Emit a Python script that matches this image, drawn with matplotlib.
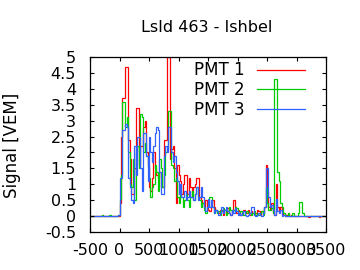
import numpy as np
import matplotlib
matplotlib.use("Agg")
import matplotlib.pyplot as plt

### Trace data (25 ns bins, -500 ns .. 3500 ns) ###
bin_width = 25
t_start = -500
t_stop = 3500

pmt1 = [
    0, 0, 0, 0, 0, 0, 0, 0, 0.02, 0, 0, 0, 0, 0, 0, 0, 0, 0, 0, 0,
    0.4, 2.5, 3.7, 3.7, 4.7, 4.7, 2.4, 1.8, 0.7, 0.7, 1.5, 3.4, 3.4, 1.6, 2.2, 2.2, 2.8, 3.0, 2.0, 1.6,
    0.9, 0.8, 1.2, 2.0, 1.5, 1.3, 1.2, 1.4, 0.9, 0.9, 2.4, 2.4, 5.0, 5.0, 1.8, 2.1, 2.2, 1.5, 0.4, 1.6,
    1.3, 1.1, 0.7, 1.0, 1.3, 1.3, 0.7, 1.2, 0.9, 0.6, 0.9, 1.0, 1.2, 1.2, 0.6, 0.5, 0.4, 0.3, 0.5, 0.3,
    0.2, 0.15, 0.4, 0.5, 0.3, 0.2, 0.15, 0.1, 0.2, 0.15, 0.05, 0.2, 0.1, 0.25, 0.1, 0.05, 0.15, 0.5, 0.3, 0.1,
    0.2, 0.15, 0.05, 0.1, 0.2, 0.15, 0.1, 0.2, 0.05, 0.15, 0.1, 0.05, 0.1, 0.2, 0.15, 0.05, 0.15, 0.1, 0.3, 1.6,
    0.8, 0.3, 0.2, 0.4, 0.1, 0.05, 1.0, 0.3, 0.15, 0.3, 0.05, 0.1, 0.0, 0.05, 0.1, 0.0, 0.02, 0.0, 0.0, 0.0,
    0, 0, 0, 0, 0, 0, 0, 0, -0.03, 0, 0, 0, 0, 0, 0, -0.03, 0, 0, 0, 0,
]

pmt2 = [
    0, 0, 0, 0, 0, 0, 0, 0, 0.03, 0, 0, 0, 0, 0.03, 0, 0, 0, 0, 0, 0.02,
    0.55, 1.3, 3.6, 3.6, 2.8, 3.1, 2.0, 1.0, 0.9, 1.8, 0.5, 2.0, 2.2, 1.5, 3.2, 3.1, 2.0, 2.3, 1.9, 1.5,
    1.2, 0.6, 0.9, 1.0, 1.6, 1.4, 0.8, 1.8, 1.5, 0.9, 1.3, 2.0, 2.1, 3.3, 3.3, 1.6, 1.5, 1.1, 1.2, 0.6,
    0.4, 0.8, 0.6, 0.3, 0.5, 0.7, 0.5, 0.3, 0.6, 0.8, 0.5, 0.7, 0.9, 0.6, 0.5, 0.3, 0.4, 0.2, 0.1, 0.3,
    0.4, 0.6, 0.6, 0.3, 0.1, 0.2, 0.1, 0.15, 0.05, 0.2, 0.25, 0.2, 0.05, 0.1, 0.3, 0.2, 0.1, 0.2, 0.3, 0.25,
    0.1, 0.05, 0.15, 0.1, 0.05, 0.1, 0.15, 0.1, 0.1, 0.05, 0.1, 0.15, 0.05, 0.1, 0.05, 0.1, 0.15, 0.05, 0.3, 0.9,
    0.4, 0.2, 0.2, 0.25, 0.1, 4.3, 4.3, 1.4, 1.1, 0.4, 0.3, 0.1, 0.05, 0.0, 0.1, 0.0, 0.0, 0.1, 0.0, 0.0,
    0.0, 0.1, 0.45, 0.45, 0.1, 0, 0, 0, 0, 0, 0, 0, 0, 0, 0, 0, 0, 0, 0, 0,
]

pmt3 = [
    0, 0, 0, 0, 0, 0, 0, 0, 0, 0, 0, 0, 0, 0, 0, 0, 0, 0, 0, 0.05,
    1.2, 1.2, 2.7, 2.7, 2.9, 2.8, 1.2, 0.9, 0.5, 0.4, 2.2, 1.3, 2.5, 2.5, 1.5, 0.8, 2.6, 2.6, 1.9, 1.1,
    2.5, 2.0, 1.7, 2.2, 2.6, 2.8, 2.7, 1.4, 0.7, 0.7, 1.9, 2.2, 2.0, 2.8, 2.8, 2.0, 1.7, 1.9, 1.4, 1.1,
    0.7, 1.0, 0.6, 0.6, 0.8, 0.5, 0.6, 0.8, 0.6, 0.6, 0.5, 0.7, 0.9, 0.5, 0.6, 0.9, 0.6, 0.3, 0.15, 0.3,
    0.55, 0.3, 0.5, 0.3, 0.1, 0.2, 0.15, 0.05, 0.1, 0.3, 0.1, 0.2, 0.3, 0.15, 0.1, 0.05, 0.2, 0.1, 0.25, 0.15,
    0.05, 0.1, 0.05, 0.1, 0.15, 0.05, 0.0, 0.05, 0.1, 0.3, 0.3, 0.05, 0.0, 0.05, 0.1, 0.05, 0.0, 0.1, 0.3, 1.5,
    1.5, 0.6, 0.3, 0.35, 0.2, 0.05, 0.55, 0.15, 0.1, 0.2, 0.0, 0.05, 0.0, 0.0, 0.0, 0.0, 0.0, 0.0, 0.0, 0.0,
    0, 0, 0, 0, 0, 0, 0, 0, 0, 0, 0, 0, 0, 0, 0, 0, 0, 0, 0, 0,
]

labels = ['PMT 1', 'PMT 2', 'PMT 3']
colors = ['#ff0000', '#00cc00', '#3060ff']
title = 'LsId 463 - Ishbel'

### Plot ###
plt.rcParams['font.family'] = 'DejaVu Sans'
plt.rcParams['axes.unicode_minus'] = False
fig = plt.figure(figsize=(3.6, 2.7), dpi=100)
ax = fig.add_axes([90 / 360, 38 / 270, 236 / 360, 175 / 270])

edges = np.arange(t_start, t_stop + bin_width, bin_width)
for vals, lab, col in zip([pmt1, pmt2, pmt3], labels, colors):
    ax.stairs(vals, edges, color=col, lw=0.9, label=lab, baseline=None)

ax.set_xlim(-500, 3500)
ax.set_ylim(-0.5, 5)
ax.set_xticks(np.arange(-500, 3501, 500))
ax.set_yticks(np.arange(-0.5, 5.01, 0.5))
ax.set_yticklabels(['-0.5', '0', '0.5', '1', '1.5', '2', '2.5', '3', '3.5', '4', '4.5', '5'])
ax.tick_params(direction='in', top=True, right=True, length=3, width=0.8, labelsize=11.5)
ax.tick_params(axis='y', pad=10)
ax.tick_params(axis='x', pad=8)
for sp in ax.spines.values():
    sp.set_linewidth(0.9)

ax.legend(loc='upper right', bbox_to_anchor=(0.911, 0.975), frameon=False, markerfirst=False,
          handlelength=2.9, handletextpad=0.75, labelspacing=0.1, borderaxespad=0, borderpad=0,
          fontsize=12)

fig.text(207 / 360, 1 - 28 / 270, title, ha='center', va='center', fontsize=11.5)
fig.text(12.5 / 360, 1 - 145 / 270, 'Signal [VEM]', ha='center', va='center', rotation=90, fontsize=12)

fig.savefig('out.png', dpi=100)
